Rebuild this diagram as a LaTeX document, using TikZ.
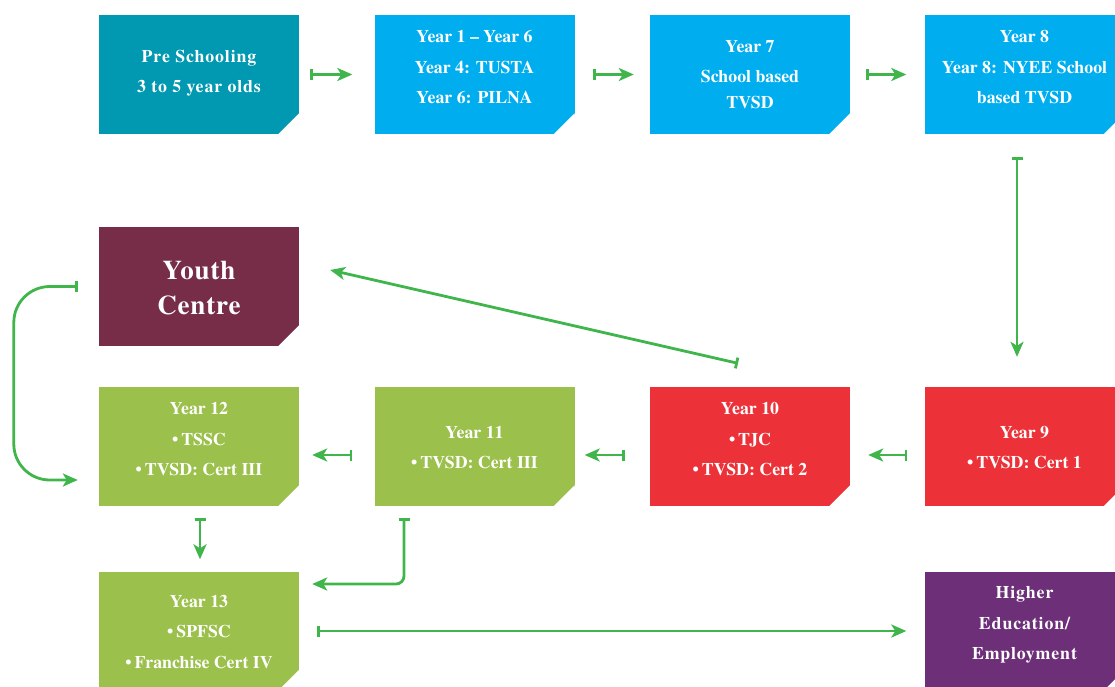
\documentclass[tikz,border=0pt]{standalone}
\usepackage{fontspec}
\setmainfont{texgyretermes}[Extension=.otf, UprightFont=*-regular, BoldFont=*-bold]
\usetikzlibrary{arrows.meta}
\definecolor{cteal}{HTML}{0099B1}
\definecolor{ccyan}{HTML}{00AEEF}
\definecolor{cmaroon}{HTML}{772D47}
\definecolor{cgreen}{HTML}{9BC04B}
\definecolor{cred}{HTML}{EC3238}
\definecolor{cpurple}{HTML}{6C2F78}
\definecolor{agreen}{HTML}{40B54C}
\begin{document}
\begin{tikzpicture}[x=1pt,y=-1pt,
  box/.style={rectangle, minimum width=200pt, minimum height=119pt, inner sep=0pt, draw=none},
  txt/.style={text=white, font=\fontsize{17.8}{30.5}\selectfont\bfseries, align=center},
  widetxt/.style={txt, font=\fontsize{17.8}{30.5}\selectfont\bfseries\addfontfeature{LetterSpace=5}},
  bigtxt/.style={text=white, font=\fontsize{27}{35}\selectfont\bfseries\addfontfeature{LetterSpace=3}, align=center},
  conn/.style={draw=agreen, line width=2.8pt, {Bar[width=11pt,line width=2.8pt]}-{Stealth[length=15pt,width=13pt,inset=4pt]}}]
\useasboundingbox (0,0) rectangle (1115,686);

% boxes
\node[box, fill=cteal]   (pre)   at (199,74.5) {};
\node[box, fill=ccyan]   (y1)    at (474.5,74.5) {};
\node[box, fill=ccyan]   (y7)    at (750,74.5) {};
\node[box, fill=ccyan]   (y8)    at (1024.5,74.5) {};
\node[box, fill=cmaroon] (youth) at (199,286.5) {};
\node[box, fill=cgreen]  (y12)   at (199,446.5) {};
\node[box, fill=cgreen]  (y11)   at (474.5,446.5) {};
\node[box, fill=cred]    (y10)   at (750,446.5) {};
\node[box, fill=cred]    (y9)    at (1024.5,446.5) {};
\node[box, fill=cgreen]  (y13)   at (199,631) {};
\node[box, fill=cpurple] (he)    at (1024.5,631) {};

% chamfered bottom-right corners
\foreach \n in {pre,y1,y7,y8,youth,y12,y11,y10,y9,y13,he}
  \fill[white] ([xshift=-21pt]\n.south east) -- ([xshift=0.5pt,yshift=-0.5pt]\n.south east) -- ([yshift=21pt]\n.south east) -- cycle;

% texts
\node[widetxt] (pre-t) at ([yshift=1.5pt]pre.center) {Pre Schooling\\3 to 5 year olds};
\node[txt] (y1-t) at ([yshift=7pt]y1.center) {Year 1 -- Year 6\\Year 4: TUSTA\\Year 6: PILNA};
\node[txt] (y7-t) at ([yshift=0pt]y7.center) {Year 7\\School based\\[-5pt]TVSD};
\node[txt] (y8-t) at ([yshift=7pt]y8.center) {Year 8\\Year 8: NYEE School\\based TVSD};
\node[bigtxt] (youth-t) at ([yshift=-2pt]youth.center) {Youth\\Centre};
\node[txt] (y12-t) at ([yshift=7pt]y12.center) {Year 12\\\textbullet\,TSSC\\\textbullet\,TVSD: Cert III};
\node[txt] (y11-t) at ([yshift=-1pt]y11.center) {Year 11\\\textbullet\,TVSD: Cert III};
\node[txt] (y10-t) at ([yshift=7pt]y10.center) {Year 10\\\textbullet\,TJC\\\textbullet\,TVSD: Cert 2};
\node[txt] (y9-t) at ([yshift=-1pt]y9.center) {Year 9\\\textbullet\,TVSD: Cert 1};
\node[txt] (y13-t) at ([yshift=-1pt]y13.center) {Year 13\\\textbullet\,SPFSC\\\textbullet\,Franchise Cert IV};
\node[widetxt] (he-t) at ([yshift=6pt]he.center) {Higher\\Education/\\Employment};

% connectors
\draw[conn] ([xshift=11pt]pre.east) -- ([xshift=-22pt]y1.west);
\draw[conn] ([xshift=18pt]y1.east) -- ([xshift=-16pt]y7.west);
\draw[conn] ([xshift=16pt]y7.east) -- ([xshift=-18pt]y8.west);
\draw[conn] ([xshift=-7.5pt,yshift=-22.5pt]y8.south) -- ([xshift=-7.5pt,yshift=30pt]y9.north);
\draw[conn] ([xshift=-17pt,yshift=-8.5pt]y9.west) -- ([xshift=18pt,yshift=-8.5pt]y10.east);
\draw[conn] ([xshift=-25pt,yshift=-8.5pt]y10.west) -- ([xshift=10pt,yshift=-8.5pt]y11.east);
\draw[conn] ([xshift=-22pt,yshift=-8.5pt]y11.west) -- ([xshift=13pt,yshift=-8.5pt]y12.east);
\draw[conn] ([xshift=-12pt,yshift=23.5pt]y10.north) -- ([xshift=31pt,yshift=16.5pt]youth.east);
\draw[conn, rounded corners=36pt] ([xshift=-21pt]youth.west) -- ++(-64,0) |- ([xshift=-21pt,yshift=-33.5pt]y12.west);
\draw[conn] ([xshift=1pt,yshift=-11.5pt]y12.south) -- ([xshift=1pt,yshift=12pt]y13.north);
\draw[conn, rounded corners=8pt] ([xshift=-70.5pt,yshift=-11.5pt]y11.south) |- ([xshift=13pt,yshift=47pt]y13.east);
\draw[conn] ([xshift=18pt]y13.east) -- ([xshift=-18pt]he.west);
\end{tikzpicture}
\end{document}
